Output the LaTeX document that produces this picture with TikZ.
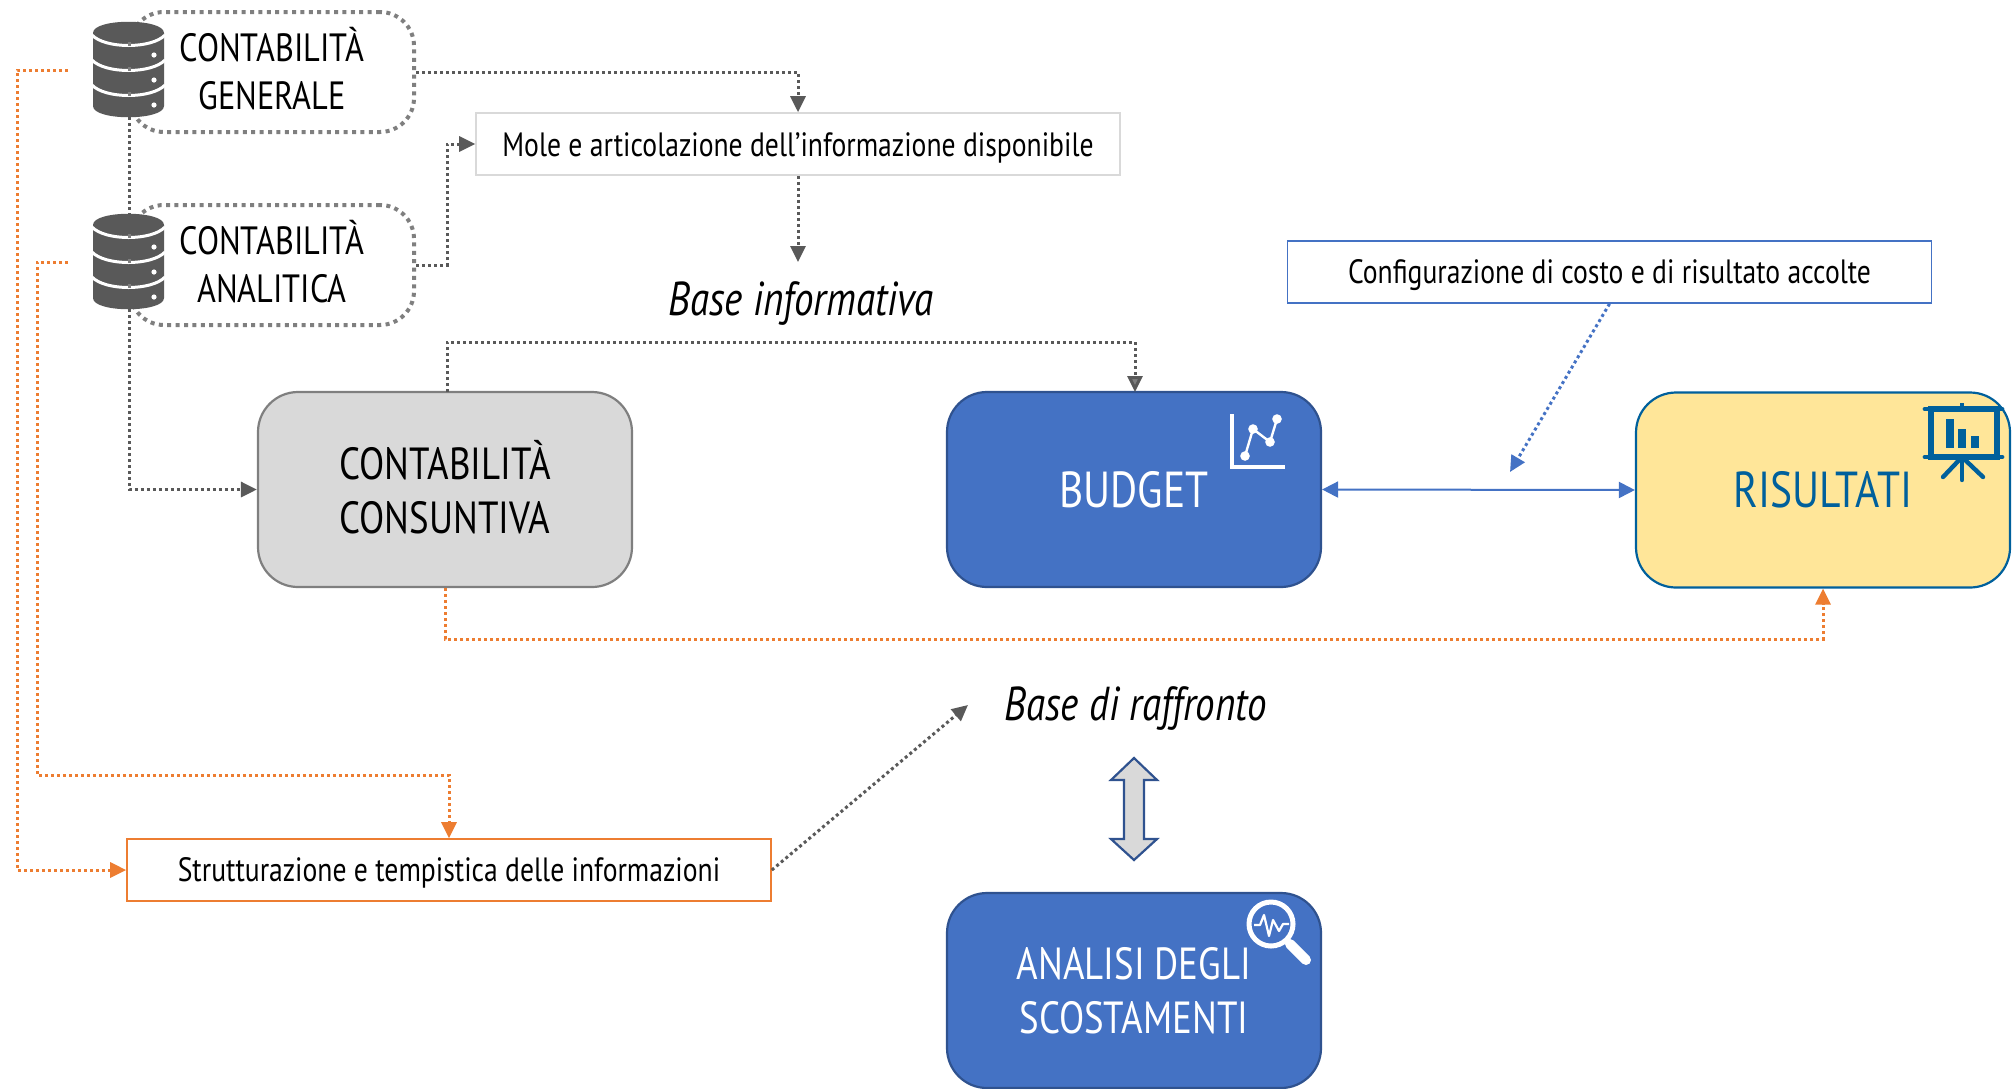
\documentclass[tikz,border=0pt]{standalone}
\usepackage{fontspec}
\setmainfont[FakeStretch=0.82]{PT Sans}
\usetikzlibrary{arrows.meta,calc}
\definecolor{dbgray}{HTML}{595959}
\definecolor{boxgray}{HTML}{7F7F7F}
\definecolor{lightline}{HTML}{D9D9D9}
\definecolor{orangeline}{HTML}{ED7D31}
\definecolor{blueone}{HTML}{4472C4}
\definecolor{bluedark}{HTML}{2F528F}
\definecolor{risblue}{HTML}{00609C}
\definecolor{risfill}{HTML}{FFE699}
\tikzset{
  x=0.5pt,y=-0.5pt,
  dotbox/.style={draw=boxgray,line width=2pt,dash pattern=on 2pt off 2.2pt,rounded corners=17pt,minimum width=142pt,minimum height=60pt,inner sep=0pt},
  conn/.style={line width=1.5pt,dash pattern=on 1.5pt off 1.5pt,-{Triangle[length=8pt,width=7.5pt,fill=#1]}},
  conn/.default=dbgray,
  plainconn/.style={line width=1.5pt,dash pattern=on 1.5pt off 1.5pt},
  flowbox/.style={rounded corners=20pt,minimum width=187pt,minimum height=97.5pt,line width=1.1pt,align=center,inner sep=0pt},
  textbox/.style={fill=white,minimum width=322pt,minimum height=31pt,inner sep=0pt,line width=.8pt},
  smalltxt/.style={font=\fontsize{16.85}{20}\selectfont},
  dbtxt/.style={font=\fontsize{19.7}{24}\selectfont,align=center},
  bigtxt/.style={font=\fontsize{22.5}{27}\selectfont,align=center},
  bigonetxt/.style={font=\fontsize{25.3}{30}\selectfont},
  itxt/.style={font=\itshape\fontsize{23.8}{28}\selectfont},
  dbnode/.style={minimum width=35.5pt,minimum height=47.5pt,inner sep=0pt},
}
\newcommand{\dbicon}[1]{%
  \begin{scope}[yshift=#1*-0.5pt]
    \fill[dbgray] (93,33) .. controls (93,18) and (164,18) .. (164,33)
      -- (164,106) .. controls (164,121) and (93,121) .. (93,106) -- cycle;
    \foreach \yy in {35,60,85}{
      \draw[white,line width=1.5pt] (92,\yy) .. controls (105,\yy+14) and (152,\yy+14) .. (165,\yy);
      \fill[white] (154,\yy+20) circle[radius=2.6];
      \fill[boxgray] (127.5,\yy+7) rectangle (130.5,\yy+11);
    }
  \end{scope}}
\begin{document}
\begin{tikzpicture}
\useasboundingbox (0,0) rectangle (2016,1088);
% dotted boxes
\node[dotbox] (gen) at (272,72) {};
\node[dotbox] (ana) at (272,265) {};
% database icons
\dbicon{0}
\dbicon{192}
\node[dbnode] (dbG) at (129,69.5) {};
\node[dbnode] (dbA) at (129,261.5) {};
\node[dbtxt] (genT) at (272,68.5) {CONTABILITÀ\\[0pt]GENERALE};
\node[dbtxt] (anaT) at (272,261.5) {CONTABILITÀ\\[0pt]ANALITICA};
% boxes
\node[textbox,draw=lightline] (mole) at (798,144) {};
\node[smalltxt] (moleT) at (798,148) {Mole e articolazione dell’informazione disponibile};
\node[textbox,draw=blueone] (conf) at (1609.5,272) {};
\node[smalltxt] (confT) at (1609.5,275) {Configurazione di costo e di risultato accolte};
\node[textbox,draw=orangeline] (strut) at (449,870) {};
\node[smalltxt] (strutT) at (449,873) {Strutturazione e tempistica delle informazioni};
\node[flowbox,draw=boxgray,fill=lightline] (cons) at (445,489.5) {};
\node[bigtxt] (consT) at (445,487) {CONTABILITÀ\\[0pt]CONSUNTIVA};
\node[flowbox,draw=bluedark,fill=blueone,text=white,bigonetxt] (budget) at (1134,489.5) {BUDGET};
\node[flowbox,draw=risblue,fill=risfill,text=risblue,bigonetxt] (ris) at (1823,490) {RISULTATI};
\begin{scope}
\clip (0,0) rectangle (2016,1088);
\node[flowbox,draw=bluedark,fill=blueone,text=white,bigtxt] (scost) at (1134,990.5) {ANALISI DEGLI\\[0pt]SCOSTAMENTI};
\end{scope}
\node[itxt] (bi) at (801,303) {Base informativa};
\node[itxt] (br) at (1136,708) {Base di raffronto};
% helper end points
\coordinate (oG) at (68,70);
\coordinate (oA) at (68,262);
\coordinate (cfEnd) at (1510,472);
\coordinate (biTop) at (798,262);
\coordinate (brEnd) at (968,705);
\coordinate (consTop) at (447,392);
\coordinate (budTop) at (1135,392);
% connectors
\draw[plainconn,dbgray] (dbG.south) -- (dbA.north);
\draw[conn,dbgray] (dbA.south) |- (cons.west);
\draw[conn,dbgray] (gen.east) -| (mole.north);
\draw[conn,dbgray] (ana.east) -- ++(31,0) |- (mole.west);
\draw[conn,dbgray] (mole.south) -- (biTop);
\draw[conn=boxgray,dbgray] (consTop) -- ++(0,-50) -| (budTop);
\draw[conn=orangeline,orangeline] (oG) -- ++(-51,0) |- (strut.west);
\draw[conn=orangeline,orangeline] (oA) -- ++(-31,0) |- ($(strut.north)+(0,-63)$) -- (strut.north);
\draw[conn=orangeline,orangeline] (cons.south) -- ++(0,51) -| (ris.south);
\draw[conn,dbgray] (strut.east) -- (brEnd);
\draw[conn=blueone,blueone] (conf.south) -- (cfEnd);
\draw[blueone,line width=1pt,{Triangle[length=8pt,width=8pt]}-{Triangle[length=8pt,width=8pt]}] (budget.east) -- (ris.west);
% block double arrow
\draw[bluedark,fill=lightline,line width=1.1pt,line join=miter]
 (1134,758) -- (1157,780) -- (1144,780) -- (1144,839) -- (1157,839) -- (1134,860)
 -- (1111,839) -- (1124,839) -- (1124,780) -- (1111,780) -- cycle;
% chart icon
\draw[white,line width=1.8pt] (1232,414) -- (1232,467) -- (1285,467);
\draw[white,line width=1.2pt] (1245,456) -- (1253,429) -- (1270,442) -- (1277,419);
\foreach \p in {(1245,456),(1253,429),(1270,442),(1277,419)}{\fill[white] \p circle[radius=4.8];}
% presentation icon
\begin{scope}[risblue]
\draw[line width=2.6pt] (1931,409) rectangle (1997,457);
\draw[line width=2.4pt,line cap=round] (1925,409) -- (2002,409);
\draw[line width=2.4pt,line cap=round] (1925,457) -- (2002,457);
\draw[line width=1.6pt] (1962,403) -- (1962,409);
\draw[line width=2.2pt,line cap=round] (1962,457) -- (1962,480);
\draw[line width=2.2pt,line cap=round] (1962,457) -- (1943,477);
\draw[line width=2.2pt,line cap=round] (1962,457) -- (1983,477);
\fill (1946,419) rectangle (1954,448);
\fill (1958,429) rectangle (1966,448);
\fill (1971,436) rectangle (1979,448);
\end{scope}
% magnifier icon
\draw[white,line width=2.5pt] (1271,924) circle[radius=22];
\draw[white,line width=5pt,line cap=round] (1290,944) -- (1306,960);
\draw[white,line width=1.1pt,line join=round] (1254,925) -- (1260,925) -- (1264,915) -- (1269,936) -- (1273,920) -- (1279,931) -- (1283,924) -- (1289,924);
\end{tikzpicture}
\end{document}
